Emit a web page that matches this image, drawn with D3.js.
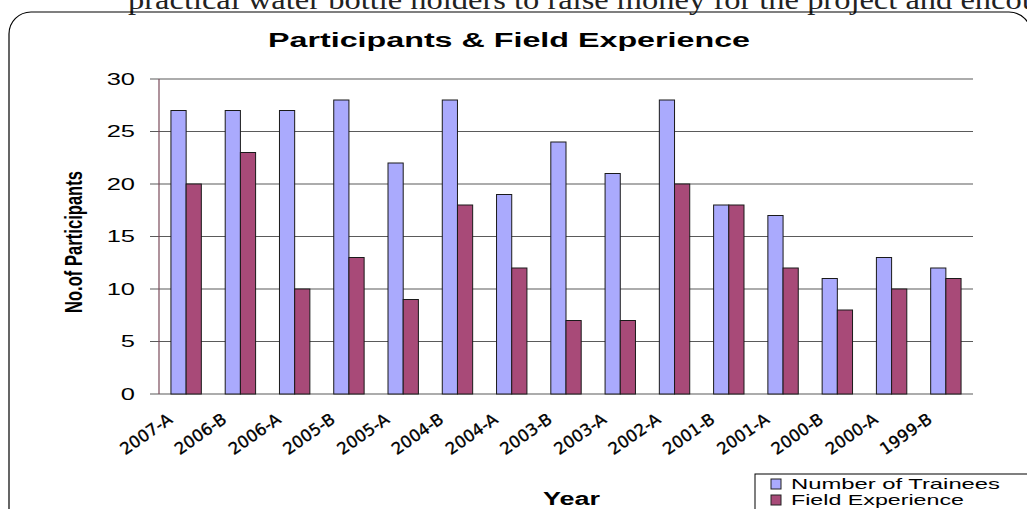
<!DOCTYPE html>
<html>
<head>
<meta charset="utf-8">
<script src="https://cdn.jsdelivr.net/npm/d3@7"></script>
<style>
  body { margin: 0; background: #fff; }
  svg { display: block; }
</style>
</head>
<body>
<div id="bar-plot"></div>
<script>
// chart data
var years = ["2007-A", "2006-B", "2006-A", "2005-B", "2005-A", "2004-B", "2004-A", "2003-B",
             "2003-A", "2002-A", "2001-B", "2001-A", "2000-B", "2000-A", "1999-B"];
var trainees = [27, 27, 27, 28, 22, 28, 19, 24, 21, 28, 18, 17, 11, 13, 12];
var fieldExp = [20, 23, 10, 13, 9, 18, 12, 7, 7, 20, 18, 12, 8, 10, 11];
var seriesNames = ["Number of Trainees", "Field Experience"];
var yTicks = [0, 5, 10, 15, 20, 25, 30];

var svgWidth = 1027;
var svgHeight = 509;

var chartMargin = { top: 79, right: 54, bottom: 115, left: 159 };
var chartWidth = svgWidth - chartMargin.left - chartMargin.right;
var chartHeight = svgHeight - chartMargin.top - chartMargin.bottom;

var colors = ["#aaaafd", "#a84a78"];
var sans = "Liberation Sans, Arial, sans-serif";

var svg = d3.select("#bar-plot")
  .append("svg")
  .attr("width", svgWidth)
  .attr("height", svgHeight);

// cut-off line of the surrounding document
svg.append("text")
  .attr("x", 128)
  .attr("y", 9)
  .attr("textLength", 910)
  .attr("lengthAdjust", "spacingAndGlyphs")
  .style("font-family", "Liberation Serif, serif")
  .style("font-size", "27px")
  .attr("fill", "#222")
  .text("practical water bottle holders to raise money for the project and encou");

// rounded chart frame
svg.append("rect")
  .attr("x", 9)
  .attr("y", 12)
  .attr("width", 1022)
  .attr("height", 540)
  .attr("rx", 22)
  .attr("fill", "none")
  .attr("stroke", "#000")
  .attr("stroke-width", 1.2);

svg.append("text")
  .attr("x", 268)
  .attr("y", 47)
  .attr("textLength", 482)
  .attr("lengthAdjust", "spacingAndGlyphs")
  .style("font-family", sans)
  .style("font-weight", "bold")
  .style("font-size", "20px")
  .text("Participants &  Field Experience");

var chartGroup = svg.append("g")
  .attr("transform", `translate(${chartMargin.left}, ${chartMargin.top})`);

var xBandScale = d3.scaleBand()
  .domain(years)
  .range([0, chartWidth]);

var xSeries = d3.scaleBand()
  .domain(seriesNames)
  .range([xBandScale.bandwidth() * 0.22, xBandScale.bandwidth() * 0.78]);

var yLinearScale = d3.scaleLinear()
  .domain([0, 30])
  .range([chartHeight, 0]);

// gridlines
chartGroup.append("g")
  .selectAll("line")
  .data(yTicks)
  .enter()
  .append("line")
  .attr("x1", -9)
  .attr("x2", chartWidth)
  .attr("y1", d => yLinearScale(d))
  .attr("y2", d => yLinearScale(d))
  .attr("stroke", "#5a5a5a")
  .attr("stroke-width", 1.2);

// y axis labels (stretched wide like the original)
var leftAxis = d3.axisLeft(yLinearScale).tickValues(yTicks).tickSize(0).tickPadding(0);
var yAxisG = chartGroup.append("g").call(leftAxis);
yAxisG.select(".domain").remove();
yAxisG.selectAll("text")
  .style("font-family", sans)
  .style("font-size", "17px")
  .attr("fill", "#000")
  .attr("x", -24 / 1.5)
  .attr("transform", "scale(1.5,1)");

chartGroup.append("line")
  .attr("x1", 0).attr("x2", 0)
  .attr("y1", 0).attr("y2", chartHeight)
  .attr("stroke", "#7a4a5a")
  .attr("stroke-width", 1.2);

// bars
var rows = years.map(function(y, i) {
  return { year: y, values: [trainees[i], fieldExp[i]] };
});

var groups = chartGroup.selectAll(".grp")
  .data(rows)
  .enter()
  .append("g")
  .attr("class", "grp")
  .attr("transform", d => `translate(${xBandScale(d.year)},0)`);

groups.selectAll("rect")
  .data(d => d.values.map((v, k) => ({ name: seriesNames[k], value: v, k: k })))
  .enter()
  .append("rect")
  .attr("x", d => xSeries(d.name))
  .attr("y", d => yLinearScale(d.value))
  .attr("width", xSeries.bandwidth())
  .attr("height", d => chartHeight - yLinearScale(d.value))
  .attr("fill", d => colors[d.k])
  .attr("stroke", "#1a1a1a")
  .attr("stroke-width", 1);

// x axis labels
var bottomAxis = d3.axisBottom(xBandScale).tickSize(0);
var xAxisG = chartGroup.append("g")
  .attr("transform", `translate(0, ${chartHeight})`)
  .call(bottomAxis);
xAxisG.select(".domain").remove();
xAxisG.selectAll("text")
  .style("font-family", "DejaVu Sans, sans-serif")
  .style("font-size", "16.5px")
  .style("stroke", "#000")
  .style("stroke-width", "0.35px")
  .attr("fill", "#000")
  .attr("y", 0)
  .attr("x", 0)
  .attr("dy", "0.35em")
  .attr("text-anchor", "end")
  .attr("transform", "translate(-16, 23) rotate(-35)");

// axis titles
svg.append("text")
  .attr("transform", "translate(82, 242) rotate(-90)")
  .attr("x", -71)
  .attr("textLength", 142)
  .attr("lengthAdjust", "spacingAndGlyphs")
  .style("font-family", sans)
  .style("font-weight", "bold")
  .style("font-size", "24px")
  .text("No.of Participants");

svg.append("text")
  .attr("x", 543)
  .attr("y", 505)
  .attr("textLength", 57)
  .attr("lengthAdjust", "spacingAndGlyphs")
  .style("font-family", sans)
  .style("font-weight", "bold")
  .style("font-size", "18px")
  .text("Year");

// legend
var legend = svg.append("g").attr("transform", "translate(755, 474)");
legend.append("rect")
  .attr("x", 0).attr("y", 0)
  .attr("width", 300).attr("height", 60)
  .attr("fill", "#fff")
  .attr("stroke", "#000")
  .attr("stroke-width", 1);

var legendLengths = [209, 173];
var items = legend.selectAll(".item")
  .data(seriesNames)
  .enter()
  .append("g")
  .attr("class", "item")
  .attr("transform", (d, i) => `translate(16, ${10 + i * 16})`);

items.append("rect")
  .attr("x", 0).attr("y", -5)
  .attr("width", 10).attr("height", 10)
  .attr("fill", (d, i) => colors[i])
  .attr("stroke", "#222");

items.append("text")
  .attr("x", 20)
  .attr("y", 5)
  .attr("textLength", (d, i) => legendLengths[i])
  .attr("lengthAdjust", "spacingAndGlyphs")
  .style("font-family", sans)
  .style("font-size", "15px")
  .text(d => d);
</script>
</body>
</html>
